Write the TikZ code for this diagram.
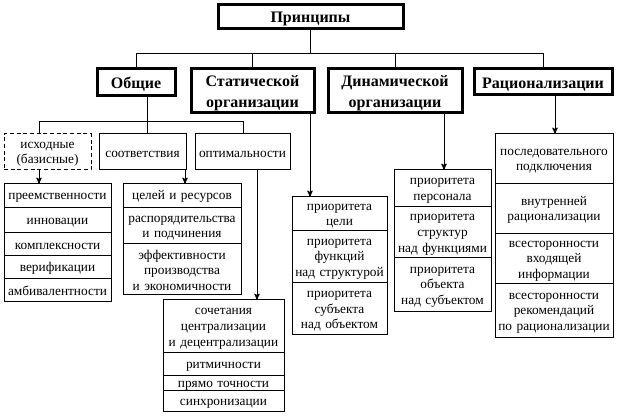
\documentclass[tikz,border=0pt]{standalone}
\usepackage{fontspec}
\setmainfont{Liberation Serif}
\usetikzlibrary{arrows,positioning}
\tikzset{
  every picture/.style = {
    x = 0.75pt,
    y = -0.75pt,
    line width = 0.75pt,
    >=stealth',
  }
  ,
  boxsize/.style 2 args = {
    minimum width = #1*0.75pt,
    minimum height = #2*0.75pt,
    text width = #1*0.75pt - 1pt
  }
  ,
  head/.style = {
    rectangle,
    draw,
    line width = 2.25pt,
    inner sep = 0pt,
    outer sep = 0pt,
    align = center,
    font = \fontsize{12}{15.75}\selectfont\bfseries,
    execute at begin node = {\rule{0pt}{11.4pt}}
  }
  , % boxes of the lists
  cell/.style = {
    rectangle,
    draw,
    inner sep = 0pt,
    outer sep = 0pt,
    align = center,
    font = \fontsize{10}{11.75}\selectfont,
    execute at begin node = {\rule{0pt}{8pt}}
  }
}
\begin{document}
\begin{tikzpicture}
\useasboundingbox (0,0) rectangle (618,416);
% headings
\node[head, boxsize={185}{24}] at (310.5,17) (princ) {Принципы};
\node[head, boxsize={78}{27}] at (136,82.5) (obsh) {Общие};
\node[head, boxsize={123}{44}] at (252.5,91) (stat) {Статической\\организации};
\node[head, boxsize={134}{44}] at (395,91) (dyn) {Динамической\\организации};
\node[head, boxsize={138}{26}] at (543,82) (rac) {Рационализации};
% general
\node[cell, boxsize={87}{36}, dash pattern = on 3pt off 2pt] at (47.5,152) (isx) {исходные\\(базисные)};
\node[cell, boxsize={87}{36}] at (142.5,152) (sootv) {соответствия};
\node[cell, boxsize={95}{36}] at (242.5,152) (opt) {оптимальности};
\node[cell, boxsize={107}{24}] at (57.5,196) (preem) {преемственности};
\node[cell, boxsize={107}{25}, below = 0pt of preem] (innov) {инновации};
\node[cell, boxsize={107}{23}, below = 0pt of innov] (kompl) {комплексности};
\node[cell, boxsize={107}{23}, below = 0pt of kompl] (verif) {верификации};
\node[cell, boxsize={107}{23}, below = 0pt of verif] (ambiv) {амбивалентности};
\node[cell, boxsize={118}{24}] at (182,196) (celej) {целей и ресурсов};
\node[cell, boxsize={118}{36}, below = 0pt of celej] (raspor) {распорядительства\\и подчинения};
\node[cell, boxsize={118}{51}, below = 0pt of raspor] (effekt) {эффективности\\производства\\и экономичности};
\node[cell, boxsize={121}{53}] at (223.5,326.5) (sochet) {сочетания\\централизации\\и децентрализации};
\node[cell, boxsize={121}{23}, below = 0pt of sochet] (ritm) {ритмичности};
\node[cell, boxsize={121}{15}, below = 0pt of ritm] (pryamo) {прямо точности};
\node[cell, boxsize={121}{21}, below = 0pt of pryamo] (sinxr) {синхронизации};
% static
\node[cell, boxsize={95}{34}] at (339.5,214) (scel) {приоритета\\цели};
\node[cell, boxsize={95}{52}, below = 0pt of scel] (sfun) {приоритета\\функций\\над структурой};
\node[cell, boxsize={95}{52}, below = 0pt of sfun] (ssub) {приоритета\\субъекта\\над объектом};
% dynamic
\node[cell, boxsize={97}{37}] at (442.5,188.5) (dpers) {приоритета\\персонала};
\node[cell, boxsize={97}{51}, below = 0pt of dpers] (dstr) {приоритета\\структур\\над функциями};
\node[cell, boxsize={97}{54}, below = 0pt of dstr] (dobj) {приоритета\\объекта\\над субъектом};
% rationalization
\node[cell, boxsize={118}{50}] at (554,159) (rpos) {последовательного\\подключения};
\node[cell, boxsize={118}{50}, below = 0pt of rpos] (rvnu) {внутренней\\рационализации};
\node[cell, boxsize={118}{50}, below = 0pt of rvnu] (rvxo) {всесторонности\\входящей\\информации};
\node[cell, boxsize={118}{54}, below = 0pt of rvxo] (rrek) {всесторонности\\рекомендаций\\по рационализации};
% connectors
\draw (princ.south) -- +(0,25) coordinate (bus);
\draw (bus) -| (obsh.north);
\draw (bus) -| (stat.north);
\draw (bus) -| (dyn.north);
\draw (bus) -| (rac.north);
\coordinate (ob) at (147,122);
\coordinate (bl) at (39,122);
\coordinate (br) at (243,122);
\draw (ob |- obsh.south) -- (ob |- sootv.north);
\draw (bl |- isx.north) -- (bl) -- (br) -- (br |- opt.north);
\coordinate (ka) at (39,0);
\coordinate (kb) at (185,0);
\coordinate (kc) at (257,0);
\coordinate (kd) at (310,0);
\coordinate (ke) at (444,0);
\coordinate (kf) at (555,0);
\draw[->] (ka |- isx.south) -- (ka |- preem.north);
\draw[->] (kb |- sootv.south) -- (kb |- celej.north);
\draw[->] (kc |- opt.south) -- (kc |- sochet.north);
\draw[->] (kd |- stat.south) -- (kd |- scel.north);
\draw[->] (ke |- dyn.south) -- (ke |- dpers.north);
\draw[->] (kf |- rac.south) -- (kf |- rpos.north);
\end{tikzpicture}
\end{document}
